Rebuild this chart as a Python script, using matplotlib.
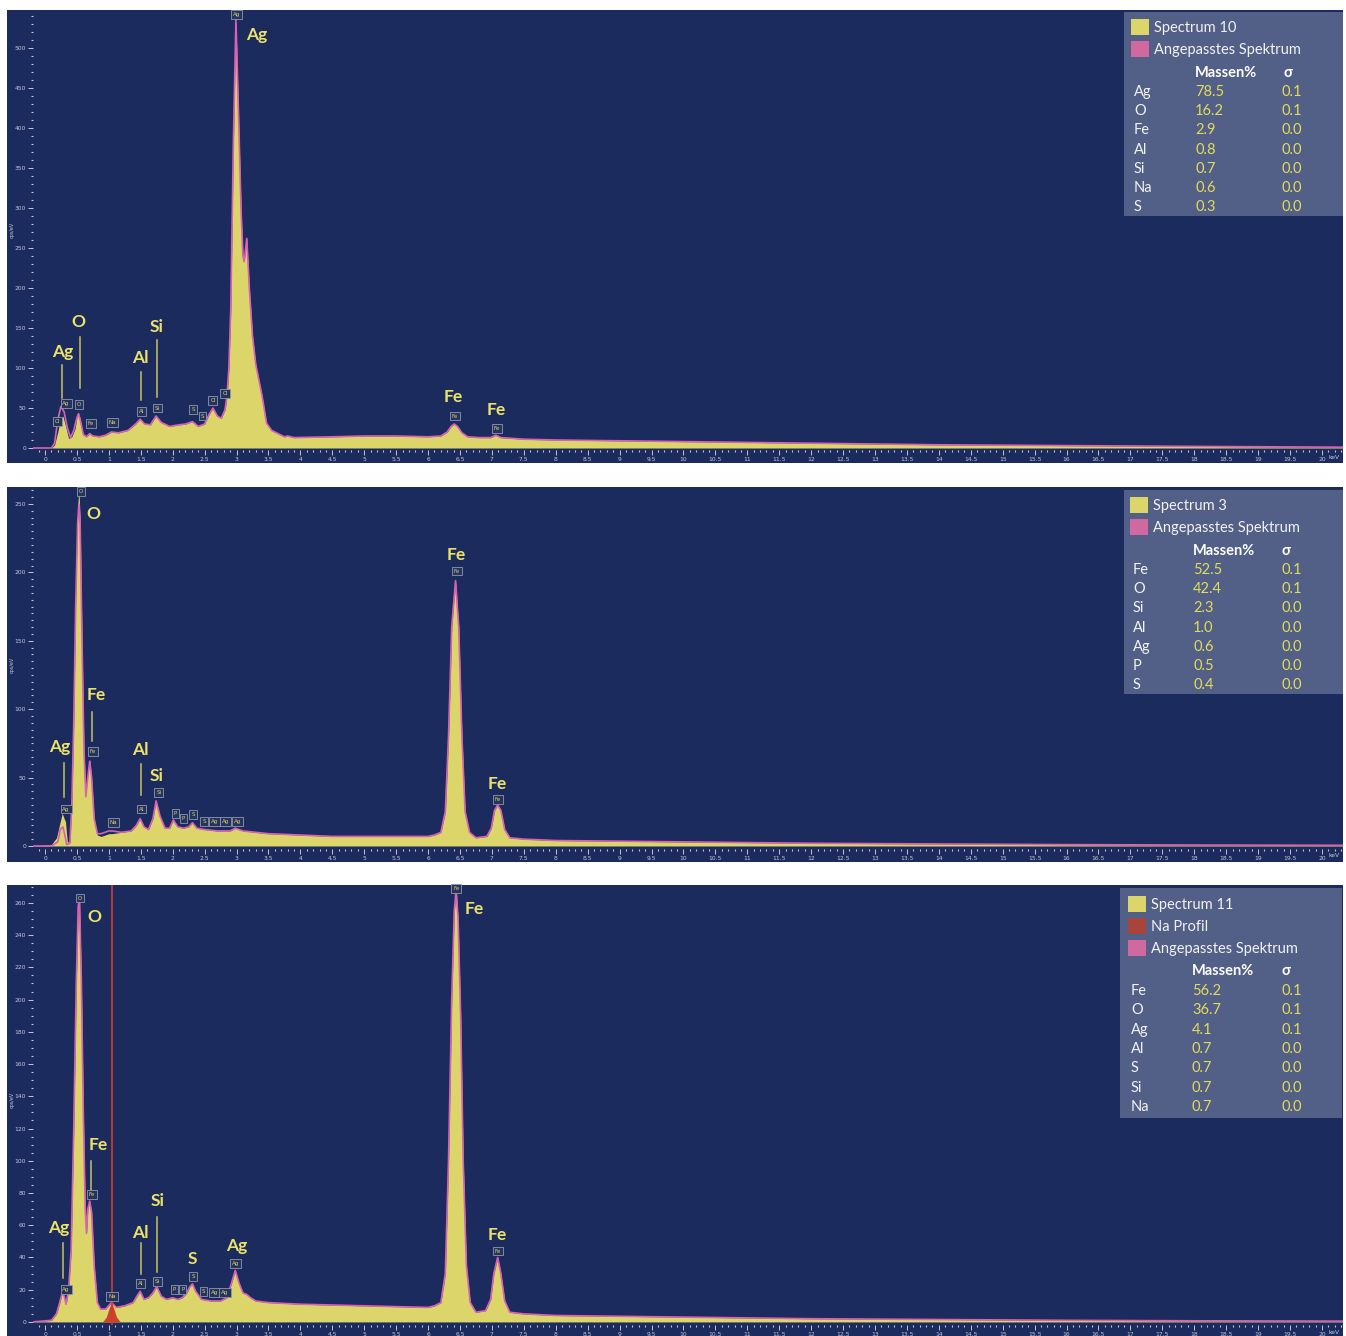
import numpy as np
import matplotlib.pyplot as plt
from matplotlib.patches import Rectangle
from matplotlib.ticker import MultipleLocator, FuncFormatter

# ---------------- data (energy in keV, counts in cps/eV) ----------------
# Spectrum 10
spec10_e = [-0.2, 0.1, 0.15, 0.2, 0.24, 0.28, 0.32, 0.37, 0.42, 0.47,
            0.5, 0.525, 0.55, 0.6, 0.65, 0.7, 0.75, 0.85, 0.95, 1.04,
            1.15, 1.3, 1.42, 1.49, 1.56, 1.65, 1.74, 1.82, 1.95, 2.1,
            2.2, 2.31, 2.4, 2.5, 2.57, 2.63, 2.7, 2.76, 2.82, 2.85,
            2.88, 2.91, 2.95, 2.99, 3.03, 3.07, 3.1, 3.12, 3.16, 3.2,
            3.25, 3.3, 3.35, 3.4, 3.47, 3.55, 3.65, 3.75, 3.8, 3.9,
            4.5, 5.0, 5.5, 6.0, 6.2, 6.3, 6.36, 6.41, 6.46, 6.53,
            6.62, 6.8, 6.98, 7.06, 7.14, 7.5, 8.0, 9.0, 10.0, 11.0,
            12.0, 13.0, 14.0, 16.0, 18.0, 20.33]
spec10_c = [0, 0, 4, 20, 35, 40, 28, 12, 14, 24,
            38, 43, 36, 16, 14, 18, 15, 14, 16, 20,
            19, 22, 30, 36, 30, 29, 40, 32, 27, 29,
            30, 33, 27, 30, 42, 50, 40, 37, 48, 65,
            100, 175, 380, 535, 420, 300, 240, 233, 262, 200,
            140, 105, 85, 65, 31, 22, 18, 14, 15, 13,
            14, 15, 15, 14, 15, 20, 27, 30, 27, 19,
            14, 13, 13, 16, 13, 11, 10, 9, 8, 7,
            6, 5, 4, 3, 2, 1]
fit10_lo_e = [-0.2, 0.1, 0.15, 0.2, 0.25, 0.3, 0.35, 0.4, 0.45, 0.5, 0.525, 0.55, 0.6]
fit10_lo_c = [0, 0, 6, 35, 52, 45, 25, 13, 22, 38, 43, 36, 17]

# Spectrum 3
spec3_e = [-0.2, 0.1, 0.18, 0.23, 0.27, 0.3, 0.32, 0.35, 0.39, 0.42,
           0.45, 0.48, 0.51, 0.53, 0.55, 0.58, 0.61, 0.64, 0.67, 0.7,
           0.73, 0.77, 0.82, 0.88, 1.0, 1.05, 1.2, 1.35, 1.43, 1.49,
           1.55, 1.62, 1.69, 1.74, 1.8, 1.88, 1.95, 2.01, 2.08, 2.17,
           2.25, 2.31, 2.38, 2.5, 2.7, 2.9, 2.98, 3.1, 3.5, 4.0,
           4.5, 5.0, 5.5, 6.0, 6.1, 6.2, 6.27, 6.32, 6.37, 6.43,
           6.48, 6.53, 6.58, 6.65, 6.75, 6.92, 6.99, 7.04, 7.09, 7.14,
           7.2, 7.28, 7.5, 8.0, 9.0, 10.0, 12.0, 14.0, 16.0, 18.0, 20.33]
spec3_c = [0, 1, 6, 16, 24, 20, 18, 3, 3, 30,
           90, 180, 245, 262, 240, 150, 70, 38, 52, 63,
           50, 20, 8, 7, 9, 9, 10, 11, 15, 20,
           14, 12, 20, 33, 22, 13, 13, 19, 14, 13,
           14, 17, 13, 12, 11, 11, 13, 11, 9, 8,
           7, 7, 7, 7, 8, 10, 25, 80, 160, 194,
           160, 80, 25, 10, 6, 7, 13, 26, 30, 26,
           12, 6, 5, 4, 3.5, 3, 2, 1.5, 1, 0.7, 0.5]
fit3_lo_e = [-0.2, 0.1, 0.2, 0.24, 0.28, 0.31, 0.34, 0.39, 0.42, 0.45, 0.48, 0.51, 0.53,
             0.55, 0.58, 0.61, 0.64, 0.67, 0.7, 0.73, 0.77, 0.82, 0.88, 1.0, 1.05]
fit3_lo_c = [0, 0, 3, 12, 14, 8, 1, 2, 30, 90, 175, 235, 250,
             235, 150, 70, 36, 50, 62, 50, 20, 9, 9, 11, 11]

# Spectrum 11
spec11_e = [-0.2, 0.1, 0.18, 0.23, 0.27, 0.3, 0.33, 0.37, 0.41, 0.45,
            0.49, 0.52, 0.54, 0.57, 0.6, 0.63, 0.65, 0.67, 0.7, 0.73,
            0.77, 0.82, 0.87, 0.95, 1.04, 1.12, 1.25, 1.38, 1.44, 1.49,
            1.55, 1.62, 1.69, 1.75, 1.82, 1.9, 2.0, 2.08, 2.15, 2.22,
            2.27, 2.31, 2.36, 2.45, 2.6, 2.75, 2.85, 2.92, 2.98, 3.04,
            3.1, 3.16, 3.22, 3.3, 3.5, 4.0, 4.5, 5.0, 5.5, 6.0,
            6.1, 6.2, 6.27, 6.32, 6.37, 6.41, 6.44, 6.47, 6.51, 6.55,
            6.6, 6.66, 6.75, 6.9, 6.98, 7.03, 7.09, 7.14, 7.2, 7.28,
            7.5, 8.0, 9.0, 10.0, 12.0, 14.0, 16.0, 18.0, 20.33]
spec11_c = [0, 1, 5, 12, 18, 16, 11, 20, 45, 120,
            210, 258, 262, 210, 130, 70, 55, 70, 75, 68,
            35, 12, 8, 8, 12, 9, 10, 12, 16, 19,
            14, 15, 18, 22, 16, 14, 15, 14, 15, 18,
            22, 23.6, 19, 14, 13, 13, 15, 24, 32, 24,
            18, 17, 15, 13, 12, 11, 10.5, 10, 9.5, 9,
            10, 12, 30, 100, 200, 255, 268, 250, 190, 100,
            35, 12, 6, 7, 14, 30, 40, 30, 13, 6,
            5, 4, 3.5, 3, 2, 1.5, 1, 0.7, 0.5]
na_prof_e = [0.9, 0.96, 1.0, 1.04, 1.08, 1.12, 1.18]
na_prof_c = [0, 3, 8, 12, 8, 3, 0]
na_line_e = 1.05

# quantification tables
tab10_el = ['Ag', 'O', 'Fe', 'Al', 'Si', 'Na', 'S']
tab10_mass = ['78.5', '16.2', '2.9', '0.8', '0.7', '0.6', '0.3']
tab10_sig = ['0.1', '0.1', '0.0', '0.0', '0.0', '0.0', '0.0']
tab3_el = ['Fe', 'O', 'Si', 'Al', 'Ag', 'P', 'S']
tab3_mass = ['52.5', '42.4', '2.3', '1.0', '0.6', '0.5', '0.4']
tab3_sig = ['0.1', '0.1', '0.0', '0.0', '0.0', '0.0', '0.0']
tab11_el = ['Fe', 'O', 'Ag', 'Al', 'S', 'Si', 'Na']
tab11_mass = ['56.2', '36.7', '4.1', '0.7', '0.7', '0.7', '0.7']
tab11_sig = ['0.1', '0.1', '0.1', '0.0', '0.0', '0.0', '0.0']

assert len(spec10_e) == len(spec10_c)
assert len(spec3_e) == len(spec3_c)
assert len(spec11_e) == len(spec11_c)

# ---------------- styles ----------------
W, H = 1346, 1336
NAVY = '#1c2b5e'
YEL = '#dcd56a'
PINK = '#d862b4'
LAB = '#ece26a'
TICK = '#c3c7da'
LEGBG = '#525f86'
RED = '#c8442c'
plt.rcParams['font.family'] = ['Lato', 'DejaVu Sans']


def fx(px):
    return px / W


def fy(py):
    return 1 - py / H


def splice(lo_e, lo_c, e, c):
    # fitted curve: own low-energy part, spectrum above it
    fe = list(lo_e) + [v for v in e if v > lo_e[-1]]
    fc = list(lo_c) + [c[i] for i, v in enumerate(e) if v > lo_e[-1]]
    return fe, fc


fig = plt.figure(figsize=(W / 100, H / 100), dpi=100)
fig.patch.set_facecolor('white')

panels = [
    dict(box=(7, 10, 1343, 463), top=10, bot=450, ylim=(-2.5, 547.5), ymaj=50, ymin=10,
         e=spec10_e, c=spec10_c, fit=splice(fit10_lo_e, fit10_lo_c, spec10_e, spec10_c),
         ylab_y=230),
    dict(box=(7, 487, 1343, 862), top=487, bot=849, ylim=(-2.2, 262.4), ymaj=50, ymin=5,
         e=spec3_e, c=spec3_c, fit=splice(fit3_lo_e, fit3_lo_c, spec3_e, spec3_c),
         ylab_y=665),
    dict(box=(7, 885, 1343, 1336), top=885, bot=1325, ylim=(-1.9, 271.1), ymaj=20, ymin=5,
         e=spec11_e, c=spec11_c, fit=(spec11_e, spec11_c), ylab_y=1100),
]

axes = []
for p in panels:
    x0, y0, x1, y1 = p['box']
    fig.patches.append(Rectangle((fx(x0), fy(y1)), (x1 - x0) / W, (y1 - y0) / H,
                                 transform=fig.transFigure, facecolor=NAVY,
                                 edgecolor='none', zorder=-5))
    ax = fig.add_axes([fx(33), fy(p['bot']), (1343 - 33) / W, (p['bot'] - p['top']) / H])
    ax.set_zorder(1)
    ax.set_facecolor('none')
    ax.set_xlim(-0.188, 20.33)
    ax.set_ylim(*p['ylim'])
    for s in ax.spines.values():
        s.set_visible(False)
    ax.fill_between(p['e'], p['c'], 0, color=YEL, lw=0, zorder=2)
    ax.plot(p['fit'][0], p['fit'][1], color=PINK, lw=1.2, zorder=3)
    ax.xaxis.set_major_locator(MultipleLocator(0.5))
    ax.xaxis.set_minor_locator(MultipleLocator(0.1))
    ax.xaxis.set_major_formatter(FuncFormatter(lambda v, pos: '%g' % v if v >= 0 else ''))
    ax.yaxis.set_major_locator(MultipleLocator(p['ymaj']))
    ax.yaxis.set_minor_locator(MultipleLocator(p['ymin']))
    ax.yaxis.set_major_formatter(FuncFormatter(lambda v, pos: '%d' % v if v >= 0 else ''))
    ax.tick_params(axis='both', which='major', colors=TICK, labelsize=4.3, length=3.5, width=0.7, pad=1.5)
    ax.tick_params(axis='both', which='minor', colors=TICK, length=1.5, width=0.8)
    ax.text(20.19, -0.012, 'keV', transform=ax.get_xaxis_transform(), ha='center', va='top',
            fontsize=4.3, color=TICK, family='DejaVu Sans')
    for lbl in ax.get_xticklabels() + ax.get_yticklabels():
        lbl.set_family('DejaVu Sans')
    fig.text(fx(12), fy(p['ylab_y']), 'cps/eV', rotation=90, ha='center', va='center',
             fontsize=3.5, color=TICK, family='DejaVu Sans')
    axes.append(ax)

# Na profile in the third spectrum
axes[2].fill_between(na_prof_e, na_prof_c, 0, color=RED, lw=0, zorder=4)
axes[2].axvline(na_line_e, color='#d23a2c', lw=1.2, zorder=5)

# ---------------- peak annotations ----------------
big = [
    [('Ag', 0.27, 120), ('O', 0.53, 157), ('Al', 1.49, 112), ('Si', 1.75, 151),
     ('Ag', 3.32, 516), ('Fe', 6.40, 64), ('Fe', 7.06, 47)],
    [('O', 0.75, 243), ('Ag', 0.23, 72), ('Fe', 0.81, 110), ('Al', 1.50, 70),
     ('Si', 1.75, 51), ('Fe', 6.44, 213), ('Fe', 7.09, 45)],
    [('O', 0.78, 251), ('Fe', 0.83, 110), ('Ag', 0.22, 58), ('Al', 1.50, 55),
     ('Si', 1.76, 75), ('S', 2.31, 39), ('Ag', 3.01, 47), ('Fe', 6.72, 256),
     ('Fe', 7.09, 54)],
]
lines = [
    [(0.27, 104, 62), (0.55, 139, 75), (1.51, 95, 60), (1.76, 135, 64)],
    [(0.29, 61, 36), (0.74, 98, 77), (1.51, 60, 37)],
    [(0.28, 49, 27), (0.72, 100, 82), (1.51, 49, 30), (1.76, 65, 31)],
]
small = [
    [('Cl', 0.19, 33), ('Ag', 0.33, 56), ('O', 0.53, 54), ('Fe', 0.72, 31), ('Na', 1.06, 32),
     ('Al', 1.51, 46), ('Si', 1.76, 50), ('S', 2.32, 48), ('S', 2.47, 40), ('Cl', 2.63, 59),
     ('Cl', 2.82, 68), ('Ag', 3.0, 542), ('Fe', 6.42, 40), ('Fe', 7.08, 24)],
    [('O', 0.56, 259), ('Ag', 0.33, 27), ('Fe', 0.75, 69), ('Na', 1.07, 17), ('Al', 1.51, 27),
     ('Si', 1.78, 39), ('P', 2.04, 24), ('P', 2.17, 20), ('S', 2.32, 23), ('S', 2.49, 18),
     ('Ag', 2.66, 18), ('Ag', 2.83, 18), ('Ag', 3.01, 18), ('Fe', 6.45, 201), ('Fe', 7.09, 34)],
    [('O', 0.55, 263), ('Ag', 0.33, 20), ('Fe', 0.73, 79), ('Na', 1.05, 16), ('Al', 1.50, 24),
     ('Si', 1.76, 25), ('P', 2.03, 20), ('P', 2.16, 20), ('S', 2.32, 28), ('S', 2.48, 19),
     ('Ag', 2.65, 18), ('Ag', 2.82, 18), ('Ag', 2.99, 36), ('Fe', 6.44, 269), ('Fe', 7.09, 44)],
]

for ax, bl, ln, sm in zip(axes, big, lines, small):
    for t, e, v in bl:
        ax.text(e, v, t, color=LAB, fontsize=12.5, fontweight='bold', ha='center', va='center', zorder=6)
    for e, v0, v1 in ln:
        ax.plot([e, e], [v0, v1], color='#c9c260', lw=1.1, zorder=6)
    for t, e, v in sm:
        ax.text(e, v, t, color='#d9d264', fontsize=4, ha='center', va='center', zorder=7,
                family='DejaVu Sans',
                bbox=dict(boxstyle='square,pad=0.35', fc='#26335f', ec='#8f97b4', lw=0.6))

# ---------------- quantification boxes ----------------
legends = [
    dict(box=(1124, 12, 1343, 216), sw=1131, tx=1154, series=[('Spectrum 10', YEL, 27),
         ('Angepasstes Spektrum', '#d0699f', 49)], head=72, row0=91, step=19.2,
         nx=1134, vx=1195, sx=1282, el=tab10_el, mass=tab10_mass, sig=tab10_sig),
    dict(box=(1124, 490, 1343, 694), sw=1130, tx=1153, series=[('Spectrum 3', YEL, 505),
         ('Angepasstes Spektrum', '#d0699f', 527)], head=550, row0=569, step=19.2,
         nx=1133, vx=1193, sx=1281, el=tab3_el, mass=tab3_mass, sig=tab3_sig),
    dict(box=(1120, 888, 1342, 1118), sw=1128, tx=1151, series=[('Spectrum 11', YEL, 904),
         ('Na Profil', '#a8443c', 926), ('Angepasstes Spektrum', '#d0699f', 948)],
         head=970, row0=990, step=19.3,
         nx=1131, vx=1192, sx=1281, el=tab11_el, mass=tab11_mass, sig=tab11_sig),
]
for L in legends:
    x0, y0, x1, y1 = L['box']
    fig.patches.append(Rectangle((fx(x0), fy(y1)), (x1 - x0) / W, (y1 - y0) / H,
                                 transform=fig.transFigure, facecolor=LEGBG,
                                 edgecolor='none', zorder=3))
    for name, col, yy in L['series']:
        fig.patches.append(Rectangle((fx(L['sw']), fy(yy + 8)), 18 / W, 16 / H,
                                     transform=fig.transFigure, facecolor=col,
                                     edgecolor='none', zorder=4))
        fig.text(fx(L['tx']), fy(yy + 1), name, color='#f2f2f2', fontsize=10.5, va='center',
                 ha='left', zorder=5)
    fig.text(fx(L['vx']), fy(L['head'] + 1), 'Massen%', color='white', fontsize=10.5,
             fontweight='bold', va='center', ha='left', zorder=5)
    fig.text(fx(L['sx'] + 1), fy(L['head'] + 1), 'σ', color='white', fontsize=10.5,
             fontweight='bold', va='center', ha='left', zorder=5)
    for i, (el, m, s) in enumerate(zip(L['el'], L['mass'], L['sig'])):
        yy = L['row0'] + i * L['step'] + 1
        fig.text(fx(L['nx']), fy(yy), el, color='#f2f2f2', fontsize=10.5, va='center',
                 ha='left', zorder=5)
        fig.text(fx(L['vx']), fy(yy), m, color='#e3dc5a', fontsize=10.5, va='center',
                 ha='left', zorder=5)
        fig.text(fx(L['sx']), fy(yy), s, color='#e3dc5a', fontsize=10.5, va='center',
                 ha='left', zorder=5)

fig.savefig('out.png', dpi=100, facecolor='white')
